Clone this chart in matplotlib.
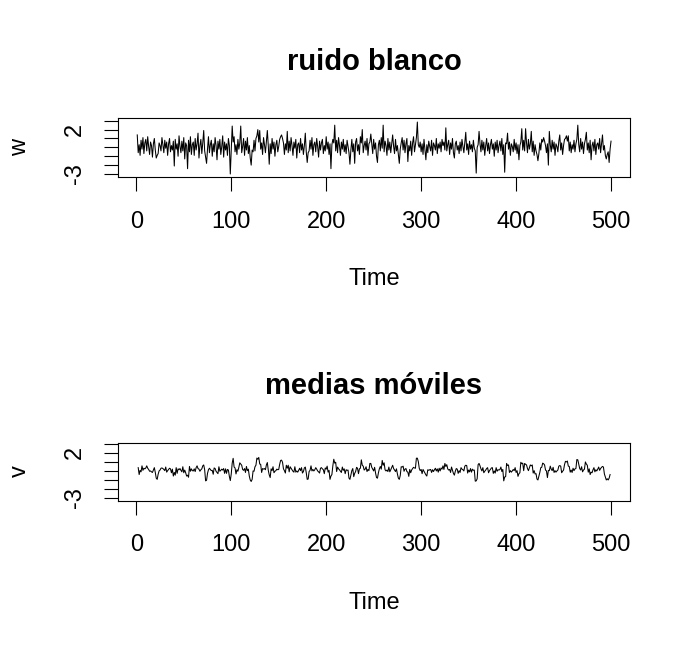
import matplotlib
matplotlib.use("Agg")
import matplotlib.pyplot as plt
import numpy as np

plt.rcParams['font.family'] = ['Liberation Sans', 'DejaVu Sans']

# ruido blanco, leido a ojo del grafico (500 valores)
w = [
    1.4, -0.6, 0.3, -0.9, 0.8, -0.2, 1.1, -0.7, 0.5, 0.9, -0.4, 1.2, 0.1, -0.8, 0.6, 0.2, -1.1, 0.4, 1.0, -0.3,
    -1.2, -0.9, -0.7, 0.5, 0.2, -0.4, 1.1, 0.3, -0.6, 0.8, -0.1, 0.6, -0.9, 0.4, 1.0, -0.5, 0.2, -0.3, 0.7, -2.1,
    0.9, -0.2, 0.4, -1.0, 1.3, 0.1, -0.6, 0.7, -0.4, 1.1, -1.3, 0.5, 0.2, -2.4, 0.8, -0.5, 1.2, -0.8, 0.3, 0.6,
    -0.9, 1.0, -0.3, 0.4, 1.6, -1.2, 0.2, 0.9, -0.7, 0.5, 1.9, -0.4, -1.1, -1.8, -0.2, 1.2, -0.6, 0.3, 0.8, -1.0,
    0.4, -0.5, 1.1, 0.2, -1.4, 0.7, -0.2, 0.9, -0.8, 0.1, 1.3, -1.1, 0.6, -0.3, 0.4, -0.9, 1.0, 0.2, -3.0, -0.4,
    2.4, 0.6, 1.2, -0.5, 0.3, -0.8, 0.9, -0.2, 0.5, 2.4, -0.6, 0.1, 1.0, -0.9, 0.7, -0.3, 1.1, -0.7, 0.2, -1.2,
    -2.0, -0.3, -0.5, 0.8, -0.4, 1.0, 1.3, 2.0, 0.6, 1.9, -0.2, 0.5, -0.8, 1.1, 0.3, -0.6, 0.7, 1.9, 0.2, -1.9,
    0.4, -0.7, 1.0, -0.2, 0.6, -1.0, 0.3, 0.8, -0.5, 0.1, 0.9, 1.2, 1.4, 1.0, 0.5, -0.8, 0.4, -0.3, 1.8, -0.6,
    0.7, -0.4, 1.1, 0.2, -0.9, 0.6, -0.1, 0.9, -1.2, 0.3, 0.5, -0.6, 1.0, -0.3, 0.4, -0.8, 0.2, 1.6, -0.5, -1.7,
    -0.6, -0.4, 0.8, -0.2, 1.1, -0.9, 0.3, 0.6, -0.5, 1.0, 0.1, -1.1, 0.7, -0.3, 0.5, 0.9, -0.7, 0.2, -0.4, 1.2,
    -0.2, 0.6, -0.8, 0.4, -2.4, 0.3, 0.9, 0.5, 2.5, -0.4, 0.8, -0.6, 1.1, 0.2, -0.9, 0.6, -0.2, 0.9, -0.5, 0.3,
    -0.7, 0.8, 0.1, -0.6, -1.9, -0.3, 0.9, -0.5, 0.4, -1.8, 0.6, 1.0, -0.4, 0.3, -0.8, 1.2, 0.5, 2.0, -0.6, 0.2,
    0.7, -0.3, 1.0, -0.9, 0.4, 0.6, 1.5, 0.4, -0.7, 0.9, -0.2, 0.5, -1.0, -1.7, 0.3, 0.8, -0.4, 1.1, -0.1, 2.5,
    -0.5, 0.7, 0.2, -0.9, 1.0, -0.3, 0.6, -0.6, 0.4, 1.4, 0.1, -0.7, 0.9, -0.4, 0.2, -0.8, -1.8, -0.2, 0.5, 1.1,
    -0.3, 0.8, -0.6, 0.4, 1.0, -1.6, 0.2, -0.4, 0.7, -0.9, 0.5, 1.2, -0.5, 0.3, 1.1, 2.85, 0.3, 0.0, 0.6, -0.5,
    0.4, -0.8, 0.9, -0.2, -1.4, 0.3, -0.6, 0.7, 0.1, -0.4, 0.8, -0.9, 0.5, 0.2, -0.3, 1.0, -0.7, 0.4, -0.1, 0.6,
    -0.5, 0.9, 0.2, 0.6, -0.3, 2.2, -0.4, 0.3, 0.8, -0.8, 0.5, -0.2, 1.0, -0.6, -1.2, 0.4, 0.7, -0.3, 0.2, -0.7,
    0.6, -0.4, 0.9, 0.1, -0.6, 0.5, 1.7, -0.3, 0.4, -0.8, 0.7, -0.2, 0.3, -0.5, 0.8, -0.1, -0.4, -2.9, 0.0, 0.3,
    1.8, 0.4, -0.5, 0.8, -0.3, 0.6, -0.9, 0.2, 1.0, -0.4, 0.5, -0.7, 0.3, 0.9, -0.2, 0.4, -1.0, 0.6, -0.3, 0.8,
    -0.6, 0.2, 0.7, -0.4, 1.0, -0.8, 0.3, -2.8, 0.5, 0.4, 1.6, -0.2, 0.6, -0.9, 0.4, 0.1, -0.5, 0.9, -0.3, 0.5,
    -0.7, 0.3, -1.4, 0.2, 0.6, 2.1, -0.3, 0.8, -0.4, 2.1, 0.5, -0.6, 0.9, -0.2, 0.4, 1.8, -0.5, 0.7, -0.9, 0.3,
    -0.4, -0.8, -1.5, -0.7, 0.5, -0.3, 0.9, 0.6, 1.1, 0.7, 0.2, -0.6, 0.4, -2.0, 1.8, 0.3, -0.5, 0.8, -0.2, 0.6,
    -0.9, 0.4, 0.1, -0.5, 0.7, 1.4, -0.3, 0.5, -0.8, 0.2, 0.9, 1.0, 1.3, 0.7, 1.3, -0.4, 0.6, -0.6, 0.3, -0.2,
    0.8, -0.5, 0.4, 0.9, 2.5, 0.3, -0.5, 1.0, -0.2, 0.6, -0.7, 0.4, 0.9, 1.7, -0.3, 0.5, -0.6, 0.8, -1.4, 0.2,
    0.6, -0.4, 0.9, -0.8, 0.3, 0.5, -0.2, 1.0, -0.6, 0.4, 1.4, -0.3, 0.2, -0.9, -1.3, -0.8, -0.5, -1.7, -0.2, 0.7,
]
assert len(w) == 500

t = np.arange(1, len(w) + 1)
# medias moviles de 3 puntos, centradas (como filter(w, sides=2, rep(1/3, 3)))
v = np.full(len(w), np.nan)
v[1:-1] = np.convolve(w, np.ones(3) / 3, mode='valid')

yticks = [-3, -2, -1, 0, 1, 2, 3]
ytick_labels = ['-3', '', '', '', '', '2', '']
xticks = [0, 100, 200, 300, 400, 500]

fig = plt.figure(figsize=(6.91, 6.48), dpi=100)

panels = [
    (w, 'ruido blanco', 'w', [0.1712, 0.7264, 0.7405, 0.0910], (-3.37, 3.27), 0),
    (v, 'medias móviles', 'v', [0.1712, 0.2269, 0.7405, 0.0900], (-3.33, 3.14), 324),
]

for serie, titulo, nombre, pos, ylim, dy in panels:
    ax = fig.add_axes(pos)
    ax.plot(t, serie, color='black', linewidth=0.75)
    ax.set_xlim(1 - 19.96, 500 + 19.96)
    ax.set_ylim(*ylim)
    ax.set_xticks(xticks)
    ax.set_yticks(yticks)
    ax.set_yticklabels(ytick_labels, rotation=90, va='center')
    ax.tick_params(axis='both', length=10, width=0.8, labelsize=17, color='black')
    ax.tick_params(axis='x', pad=14)
    ax.tick_params(axis='y', pad=13)
    for s in ax.spines.values():
        s.set_linewidth(0.8)
    fig.text(374 / 691, 1 - (70 + dy) / 648, titulo, ha='center', va='baseline',
             fontsize=21, fontweight='bold')
    fig.text(374 / 691, 1 - (279 + dy) / 648, 'Time', ha='center', va='center', fontsize=17)
    fig.text(20 / 691, 1 - (147 + dy) / 648, nombre, ha='center', va='center',
             rotation=90, fontsize=17)

fig.savefig('out.png', dpi=100)
